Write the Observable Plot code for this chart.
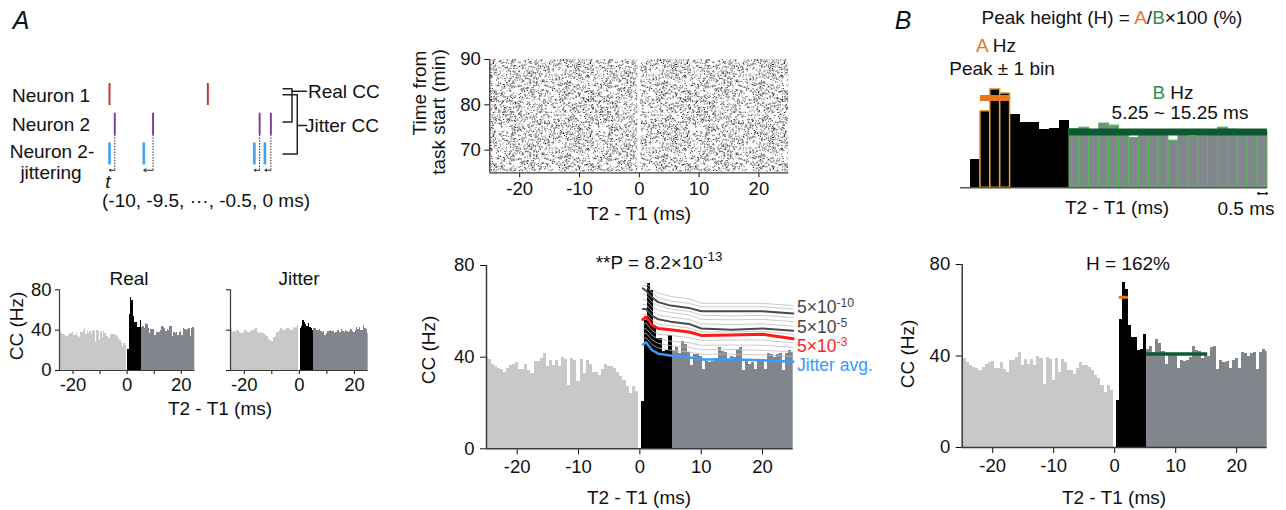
<!DOCTYPE html>
<html>
<head>
<meta charset="utf-8">
<script src="https://cdn.jsdelivr.net/npm/d3@7"></script>
<script src="https://cdn.jsdelivr.net/npm/@observablehq/plot@0.6"></script>
<style>
html,body{margin:0;padding:0;background:#fff;}
#fig{position:relative;width:1286px;height:510px;overflow:hidden;font-family:"Liberation Sans",Arial,Helvetica,sans-serif;color:#111;}
#fig svg{position:absolute;overflow:visible;}
.t{position:absolute;white-space:nowrap;font-size:19px;line-height:1;}
.t sup{font-size:0.7em;vertical-align:0.55em;line-height:0;}
</style>
</head>
<body>
<div id="fig"></div>
<script>
// ================= DATA =================
// 0.5-ms bins of the cross-correlogram (T2 - T1, ms)
const binCenters = d3.range(-25, 25.001, 0.5);
// Real cross-correlogram (Hz), one value per bin
const ccReal = [
  40,39,37,36,35,34.5,33.5,35,36.5,37,37.5,34.5,34.5,37,34,33,38,38,39.5,41.5,
  36,38.5,36.5,38.5,36,40,39,27.5,39.5,38.5,29.5,39,33,38.5,37,33.5,33.5,32,34.5,37,
  36,36,35,33.5,31.5,30,27,24,27,25,0,
  20.5,56,72,69,53.5,48,48,42.5,43,49.5,
  43,44,41.5,47,45.5,42,36.5,41,41,40.5,34.5,38,37.5,38,39.5,44,42.5,42,39,40.5,
  40,43.5,44,34,38,37,37.5,34.5,38,39,34.5,41.5,41,40,41,41.5,34,41.5,43,42
];
// Jittered cross-correlogram (Hz)
const ccJitter = [
  43,41,38,39,38,40,39,38,37,37,36.5,40,39,38,38,39,40,39.5,41,41.5,
  38,37,37.5,36.5,37,35.5,35,34,30.5,30,28.5,29,33,34,38,37.5,40,41.5,41,40,
  40,42,41.5,40.5,40,39.5,43,42,42.5,44.5,0,
  41.5,44,49.5,48,46,44,46.5,43,41.5,40,
  41.5,42,40,39.5,40.5,39,38,38.5,35,36.5,38.5,39,40,39,38.5,37,38,40,39.5,38,
  40.5,39,38,40,38.5,37.5,39,40.5,39,38,40,42.5,41,43,39.5,40,44.5,42,40.5,36.5
];
// Significance curves (Hz) sampled at lineX (ms)
const lineX     = [0.5, 1, 2, 3, 5, 8, 10, 15, 20, 25];
const jitterAvg = [45.5, 46.5, 43, 41.5, 40.7, 40, 39, 39, 38.7, 38];
const p5e3      = [56.5, 57.5, 54, 52.5, 52, 51, 49.5, 49.7, 50, 48];
const p5e5      = [61, 61, 58, 56.5, 55.5, 54.5, 52.5, 52, 52.5, 51.5];
const p5e10     = [70, 69, 66, 64, 62.5, 61.5, 60, 60, 60, 59];
const thinLines = [
  [48, 48.5, 45.5, 44, 43, 42.3, 41.3, 41.3, 41, 40.3],
  [50, 50.5, 47.5, 46, 45, 44.3, 43.2, 43.3, 43, 42.3],
  [52, 52.5, 49.5, 48, 47, 46.3, 45.2, 45.3, 45.2, 44.3],
  [54, 55, 51.5, 50, 49.5, 48.5, 47.3, 47.5, 47.5, 46.2],
  [58.5, 59, 56, 54.5, 53.7, 52.7, 51, 51, 51.3, 50],
  [63, 63, 60, 58.5, 57.5, 56.5, 54.5, 54.2, 54.5, 53.5],
  [65, 65, 62, 60.5, 59.5, 58.5, 56.5, 56.3, 56.5, 55.5],
  [67.5, 67, 64, 62.5, 61, 60, 58.3, 58, 58.2, 57.3],
  [71.5, 71, 68, 66, 64.5, 63.5, 62, 62, 62, 61],
  [73, 72.5, 69.5, 68, 66.5, 65.5, 63.5, 63.5, 63.5, 62.5]
];
// Peak-height definition
const peakCenters = [1, 1.5, 2];        // peak ± 1 bin
const baseWindow  = [5.25, 15.25];      // B window (ms)
const zoomWindow  = [0.25, 15.25];      // x-range of the zoomed inset
const scaleBar    = [14.75, 15.25];     // 0.5 ms
// Raster
const rasterTime   = [65, 90];          // min
const rasterBlocks = [{x1: -25, x2: -0.25}, {x1: 0.25, x2: 25}];
// Schematic spike trains (arbitrary ms)
const neuron1Spikes = [0, 29.8];
const neuron2Spikes = [1.6, 13.2, 45.5, 48.9];
const jitterShift   = [1.6, 2.8, 1.6, 1.8];
const realBracket   = [[52.6, 0.81], [55.3, 0.81], [55.3, 1.93], [52.6, 1.93]];
const realLink      = [[55.3, 0.89], [59.7, 0.89]];
const jitterBracket = [[52.6, 1.01], [56.9, 1.01], [56.9, 3.0], [52.6, 3.0]];
const jitterLink    = [[56.9, 2.04], [59.7, 2.04]];

// ================= COLOURS =================
const C = {light: "#c8c8c8", dark: "#80868b", axis: "#3a3a3a", orange: "#e8771e", orangeEdge: "#e8a23a",
  green: "#2f8f50", greenBar: "#0d5a32", greenEdge: "#49c24a", red: "#ff1a1a", blue: "#3a9bff", grey: "#4a4a4a"};
const FONT = '"Liberation Sans", Arial, Helvetica, sans-serif';
const style = {fontSize: "18.5px", fontFamily: FONT, color: "#111", background: "transparent", overflow: "visible"};
const fmt = d => String(d);

// ================= DERIVED TABLES =================
const bins = binCenters.map((c, i) => ({c, x1: c - 0.25, x2: c + 0.25, v: ccReal[i], j: ccJitter[i]}));
const A = d3.mean(bins.filter(b => peakCenters.includes(b.c)), b => b.v);
const B = d3.mean(bins.filter(b => b.x1 >= baseWindow[0] - 1e-9 && b.x2 <= baseWindow[1] + 1e-9), b => b.v);
const rows = (arr, k) => lineX.map((x, i) => ({x, v: arr[i], k}));
const jittered = neuron2Spikes.map((s, i) => s - jitterShift[i]);

const fig = document.getElementById("fig");
function put(svg, left, top) { svg.style.left = left + "px"; svg.style.top = top + "px"; fig.appendChild(svg); }
function txt(html, x, y, o = {}) {
  const d = document.createElement("div");
  d.className = "t";
  d.innerHTML = html;
  const ax = o.anchor === "start" ? "0%" : o.anchor === "end" ? "-100%" : "-50%";
  d.style.left = x + "px"; d.style.top = y + "px";
  d.style.transform = `translate(${ax},-50%)` + (o.rotate ? ` rotate(${o.rotate}deg)` : "");
  if (o.size) d.style.fontSize = o.size + "px";
  if (o.color) d.style.color = o.color;
  if (o.italic) d.style.fontStyle = "italic";
  fig.appendChild(d);
}
function histMarks(key) {
  const o = fill => ({x1: "x1", x2: "x2", y1: 0, y2: key, fill, shapeRendering: "crispEdges", clip: true});
  return [
    Plot.rect(bins.filter(b => b.c < 0), o(C.light)),
    Plot.rect(bins.filter(b => b.c > 0 && b.c <= 5), o("#000")),
    Plot.rect(bins.filter(b => b.c > 5), o(C.dark))
  ];
}
const axisLines = (xmin, ymin, ymax, w = 1.5) => [
  Plot.ruleX([xmin], {y1: ymin, y2: ymax, stroke: C.axis, strokeWidth: w}),
  Plot.ruleY([ymin], {stroke: C.axis, strokeWidth: w})
];

// ================= SCHEMATIC (A, top-left) =================
put(Plot.plot({
  width: 400, height: 220, marginLeft: 109, marginRight: 126, marginTop: 64.3, marginBottom: 36.9,
  x: {domain: [0, 50], axis: null}, y: {domain: [0, 4], reverse: true, axis: null}, style,
  marks: [
    Plot.ruleX(neuron1Spikes, {x: d => d, y1: 0.63, y2: 1.37, stroke: "#c0393b", strokeWidth: 2}),
    Plot.ruleX(neuron2Spikes, {x: d => d, y1: 1.63, y2: 2.37, stroke: "#7d3f9e", strokeWidth: 2}),
    Plot.ruleX(jittered, {x: d => d, y1: 2.63, y2: 3.37, stroke: "#3ea3f2", strokeWidth: 2.6}),
    Plot.ruleX(neuron2Spikes, {x: d => d, y1: 2.37, y2: 3.55, stroke: "#222", strokeWidth: 1, strokeDasharray: "1.4,1.4"}),
    Plot.arrow(neuron2Spikes, {x1: d => d, x2: (d, i) => jittered[i], y1: 3.55, y2: 3.55, headLength: 4, headAngle: 70, stroke: "#222", strokeWidth: 1}),
    Plot.line(realBracket, {stroke: "#222", strokeWidth: 1.5}),
    Plot.line(realLink, {stroke: "#222", strokeWidth: 1.5}),
    Plot.line(jitterBracket, {stroke: "#222", strokeWidth: 1.5}),
    Plot.line(jitterLink, {stroke: "#222", strokeWidth: 1.5})
  ]
}), 0, 0);

// ================= RASTER (A, top-middle) =================
const raster = Plot.plot({
  width: 400, height: 190, marginLeft: 89.3, marginRight: 11.7, marginTop: 19, marginBottom: 57.7, style,
  x: {domain: [-25, 25], ticks: [-20, -10, 0, 10, 20], tickFormat: fmt, tickSize: 5, tickPadding: 4, label: null},
  y: {domain: rasterTime, ticks: [70, 80, 90], tickFormat: fmt, tickSize: 5, tickPadding: 4, label: null},
  marks: [
    Plot.rect(rasterBlocks, {x1: "x1", x2: "x2", y1: rasterTime[0] + 0.2, y2: rasterTime[1], fill: "url(#stipple)"}),
    ...axisLines(-25, rasterTime[0], rasterTime[1], 1.3)
  ]
});
// stipple texture (pure styling of the raster blocks)
(function () {
  const hash = i => { let x = Math.imul(i ^ 0x9e3779b9, 0x85ebca6b) >>> 0; x = (x ^ (x >>> 13)) >>> 0; x = Math.imul(x, 0xc2b2ae35) >>> 0; x = (x ^ (x >>> 16)) >>> 0; return x / 4294967296; };
  const W = 97, H = 73, paths = ["", "", ""];
  for (let k = 0; k < 1900; k++) {
    const x = (hash(3 * k + 1) * W).toFixed(1), y = (hash(3 * k + 2) * H).toFixed(1);
    paths[Math.floor(hash(3 * k + 3) * 3)] += `M${x},${y}h1.1v1.1h-1.1z`;
  }
  raster.insertAdjacentHTML("afterbegin",
    `<defs><pattern id="stipple" width="${W}" height="${H}" patternUnits="userSpaceOnUse">` +
    `<path d="${paths[0]}" fill="#222"/><path d="${paths[1]}" fill="#777"/><path d="${paths[2]}" fill="#aaa"/></pattern></defs>`);
})();
put(raster, 400, 40);

// ================= REAL / JITTER small CCGs =================
const small = (key, showY, left, mL, mR, w) => put(Plot.plot({
  width: w, height: 140, marginLeft: mL, marginRight: mR, marginTop: 19.3, marginBottom: 40, style,
  x: {domain: [-25, 25], ticks: [-20, -10, 0, 10, 20], tickFormat: d => d % 20 === 0 ? String(d) : "", tickSize: 4, tickPadding: 3, label: null},
  y: {domain: [0, 80], ticks: [0, 40, 80], tickFormat: d => showY ? String(d) : "", tickSize: 4, tickPadding: 4, label: null},
  marks: [...histMarks(key), ...axisLines(-25, 0, 80, 1.2)]
}), left, 270);
small("v", true, 0, 59, 15.7, 210);
small("j", false, 210, 20, 12.3, 170);

// ================= MAIN CCG with significance lines =================
put(Plot.plot({
  width: 480, height: 270, marginLeft: 86, marginRight: 87.3, marginTop: 25, marginBottom: 61.7, style,
  x: {domain: [-25, 25], ticks: [-20, -10, 0, 10, 20], tickFormat: fmt, tickSize: 6, tickPadding: 5, label: null},
  y: {domain: [0, 80], ticks: [0, 40, 80], tickFormat: fmt, tickSize: 6, tickPadding: 6, label: null},
  marks: [
    ...histMarks("v"),
    Plot.line(thinLines.flatMap((a, k) => rows(a, k)), {x: "x", y: "v", z: "k", stroke: "#bdbdbd", strokeWidth: 0.8}),
    Plot.line(rows(p5e10, 0), {x: "x", y: "v", stroke: C.grey, strokeWidth: 2}),
    Plot.line(rows(p5e5, 0), {x: "x", y: "v", stroke: C.grey, strokeWidth: 2}),
    Plot.line(rows(p5e3, 0), {x: "x", y: "v", stroke: C.red, strokeWidth: 3}),
    Plot.line(rows(jitterAvg, 0), {x: "x", y: "v", stroke: C.blue, strokeWidth: 2.5}),
    ...axisLines(-25, 0, 80, 1.5)
  ]
}), 400, 240);

// ================= B: zoomed inset =================
const inset = bins.filter(b => b.x1 >= zoomWindow[0] - 1e-9 && b.x2 <= zoomWindow[1] + 1e-9);
put(Plot.plot({
  width: 326, height: 150, marginLeft: 10, marginRight: 19, marginTop: 7.9, marginBottom: 32.7, style,
  x: {domain: zoomWindow, axis: null}, y: {domain: [0, 80], axis: null},
  marks: [
    Plot.rect(inset.filter(b => b.c <= 5 && !peakCenters.includes(b.c)), {x1: "x1", x2: "x2", y1: 0, y2: "v", fill: "#000", shapeRendering: "crispEdges"}),
    Plot.rect(inset.filter(b => b.c > 5), {x1: "x1", x2: "x2", y1: 0, y2: "v", fill: C.dark, stroke: C.greenEdge, strokeWidth: 1}),
    Plot.rect(inset.filter(b => peakCenters.includes(b.c)), {x1: "x1", x2: "x2", y1: 0, y2: "v", fill: "#000", stroke: C.orangeEdge, strokeWidth: 1.5}),
    Plot.ruleY([A], {x1: d3.min(peakCenters) - 0.25, x2: d3.max(peakCenters) + 0.25, stroke: C.orange, strokeWidth: 6}),
    Plot.ruleY([B], {x1: baseWindow[0], x2: baseWindow[1], stroke: C.greenBar, strokeWidth: 7}),
    Plot.ruleY([0], {x1: -0.25, x2: zoomWindow[1], stroke: "#555", strokeWidth: 1.5}),
    Plot.arrow(scaleBar, {x1: d3.mean(scaleBar), x2: d => d, y1: -4.2, y2: -4.2, headLength: 3.5, headAngle: 70, stroke: "#111", strokeWidth: 1.2})
  ]
}), 960, 70);

// ================= B: CCG with A and B =================
put(Plot.plot({
  width: 406, height: 270, marginLeft: 81.7, marginRight: 19.3, marginTop: 24, marginBottom: 63, style,
  x: {domain: [-25, 25], ticks: [-20, -10, 0, 10, 20], tickFormat: fmt, tickSize: 6, tickPadding: 5, label: null},
  y: {domain: [0, 80], ticks: [0, 40, 80], tickFormat: fmt, tickSize: 6, tickPadding: 6, label: null},
  marks: [
    ...histMarks("v"),
    Plot.ruleY([A], {x1: d3.min(peakCenters) - 0.25, x2: d3.max(peakCenters) + 0.25, stroke: C.orange, strokeWidth: 3}),
    Plot.ruleY([B], {x1: baseWindow[0], x2: baseWindow[1], stroke: C.greenBar, strokeWidth: 3.5}),
    ...axisLines(-25, 0, 80, 1.5)
  ]
}), 880, 240);

// ================= TEXT =================
txt("A", 21, 20, {italic: true, size: 25});
txt("B", 903, 20, {italic: true, size: 25});
txt("Neuron 1", 51, 95); txt("Neuron 2", 51, 124); txt("Neuron 2-", 52, 151); txt("jittering", 51, 172);
txt("Real CC", 308, 91, {anchor: "start"}); txt("Jitter CC", 305, 125, {anchor: "start"});
txt("t", 108, 181, {italic: true});
txt("(-10, -9.5, \u00B7\u00B7\u00B7, -0.5, 0 ms)", 206, 200);
txt("Time from", 419, 93, {rotate: -90}); txt("task start (min)", 438, 112, {rotate: -90});
txt("T2 - T1 (ms)", 639, 213);
txt(`Peak height (H) = <span style="color:${C.orange}">A</span>/<span style="color:${C.green}">B</span>\u00D7100 (%)`, 1112, 17);
txt(`<span style="color:${C.orange}">A</span> Hz`, 996, 45);
txt("Peak \u00B1 1 bin", 1002, 68);
txt(`<span style="color:${C.green}">B</span> Hz`, 1173, 92);
txt("5.25 ~ 15.25 ms", 1180, 112);
txt("T2 - T1 (ms)", 1117, 207);
txt("0.5 ms", 1246, 208);
txt("Real", 129, 278); txt("Jitter", 299, 278);
txt("CC (Hz)", 16, 326, {rotate: -90});
txt("T2 - T1 (ms)", 220, 408);
txt("**P = 8.2\u00D710<sup>-13</sup>", 659, 262);
txt("CC (Hz)", 428, 350, {rotate: -90});
txt("T2 - T1 (ms)", 639, 497);
txt("5\u00D710<sup>-10</sup>", 797, 308, {anchor: "start", color: "#444", size: 17.5});
txt("5\u00D710<sup>-5</sup>", 797, 327.5, {anchor: "start", color: "#444", size: 17.5});
txt("5\u00D710<sup>-3</sup>", 797, 346.5, {anchor: "start", color: C.red, size: 17.5});
txt("Jitter avg.", 797, 366, {anchor: "start", color: C.blue, size: 17.5});
txt("H = 162%", 1128, 263);
txt("CC (Hz)", 907, 354, {rotate: -90});
txt("T2 - T1 (ms)", 1114, 497);
</script>
</body>
</html>
